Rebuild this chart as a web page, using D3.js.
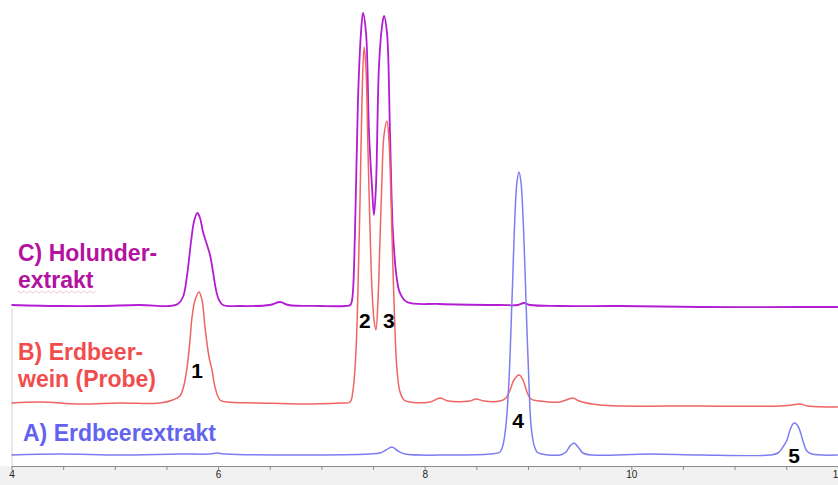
<!DOCTYPE html>
<html>
<head>
<meta charset="utf-8">
<script src="https://cdn.jsdelivr.net/npm/d3@7"></script>
<style>
  html, body { margin: 0; padding: 0; background: #fff; }
  svg { display: block; }
  text { font-family: "Liberation Sans", Arial, sans-serif; }
</style>
</head>
<body>
<svg id="chart" width="838" height="485"></svg>
<script>
// ---- data: retention time (min), signal (stacked display units) ----
const traceC = [
  [4.00,161],[4.47,160],[4.86,160],[5.24,161],[5.53,160],[5.61,162],[5.66,169],[5.70,191],
  [5.74,226],[5.77,246],[5.80,253],[5.825,248],[5.854,234],[5.893,221],[5.922,211],[5.951,194],
  [5.98,176],[6.009,166],[6.047,161],[6.21,160],[6.50,161],[6.60,164],[6.68,161],[6.99,160],
  [7.23,160],[7.28,161],[7.297,166],[7.325,233],[7.354,366],[7.383,433],[7.403,453],[7.432,433],
  [7.461,333],[7.49,279],[7.509,251],[7.528,279],[7.557,399],[7.586,439],[7.606,450],[7.635,433],
  [7.664,333],[7.693,233],[7.732,186],[7.761,173],[7.829,164],[8.148,162],[8.73,161],[8.90,161],
  [8.96,163],[9.02,161],[9.31,160],[9.89,160],[10.665,159],[11.63,159],[12.0,159]
];
const traceB = [
  [4.00,63],[4.28,64],[4.66,62],[5.05,63],[5.44,63],[5.56,66],[5.63,70],[5.67,81],[5.70,99],
  [5.728,126],[5.748,149],[5.777,166],[5.815,174],[5.844,166],[5.873,139],[5.912,109],[5.941,96],
  [5.97,79],[6.018,66],[6.086,64],[6.406,63],[6.793,62],[7.18,63],[7.277,64],[7.306,76],
  [7.335,116],[7.354,176],[7.374,266],[7.393,366],[7.413,419],[7.432,396],[7.451,316],[7.471,236],
  [7.49,176],[7.509,146],[7.528,136],[7.548,166],[7.567,226],[7.586,286],[7.606,331],[7.635,345],
  [7.654,326],[7.674,266],[7.693,196],[7.712,136],[7.732,96],[7.761,74],[7.80,66],[7.858,64],
  [8.05,64],[8.148,68],[8.225,65],[8.438,65],[8.496,67],[8.574,65],[8.729,65],[8.787,68],
  [8.826,76],[8.864,86],[8.913,91],[8.952,86],[8.99,74],[9.029,67],[9.116,65],[9.31,64],
  [9.368,66],[9.436,68],[9.494,65],[9.697,61],[10.665,60],[11.44,60],[11.555,61],[11.633,62],
  [11.71,60],[12.0,59]
];
const traceA = [
  [4.00,11],[4.47,12],[5.05,11],[5.63,12],[5.92,12],[5.99,13],[6.07,12],[6.79,11],[7.47,12],
  [7.567,13],[7.625,16],[7.683,19],[7.741,15],[7.809,12],[8.245,11],[8.632,12],[8.729,14],
  [8.758,21],[8.787,41],[8.816,86],[8.835,136],[8.855,196],[8.874,251],[8.893,284],[8.913,294],
  [8.932,284],[8.951,251],[8.971,196],[8.99,136],[9.01,81],[9.029,41],[9.058,21],[9.087,14],
  [9.135,12],[9.31,11],[9.368,14],[9.407,20],[9.445,23],[9.484,19],[9.532,13],[9.62,11],
  [10.18,12],[10.665,11],[11.342,11],[11.42,13],[11.468,19],[11.507,26],[11.536,36],[11.565,42],
  [11.584,43],[11.613,40],[11.642,32],[11.671,22],[11.70,15],[11.749,12],[12.0,11]
];
const seriesNames = ["A) Erdbeerextrakt", "B) Erdbeer-|wein (Probe)", "C) Holunder-|extrakt"];
const seriesColors = ["#7d7df2", "#f06464", "#b21cd2"];
const labelColors = ["#6363ef", "#f24d4d", "#b3139f"];
// peak numbers: label, retention time, label baseline (signal units)
const peakLabels = ["1", "2", "3", "4", "5"];
const peakTimes = [5.796, 7.42, 7.654, 8.903, 11.575];
const peakLabelLevels = [88, 138, 138, 38, 3];
const tickValues = [4, 4.5, 5, 5.5, 6, 6.5, 7, 7.5, 8, 8.5, 9, 9.5, 10, 10.5, 11, 11.5, 12];
const tickLabels = ["4", "", "", "", "6", "", "", "", "8", "", "", "", "10", "", "", "", "12"];

// ---- drawing ----
const svg = d3.select("#chart");
const W = 838, H = 485;
const x = d3.scaleLinear().domain([4, 12]).range([11.5, 837.9]);
const y = d3.scaleLinear().domain([0, 466]).range([466, 0]);

// light band below axis
svg.append("rect").attr("x", 0).attr("y", y(0)).attr("width", W).attr("height", H - y(0))
  .attr("fill", "#f1f1f1");

// faint left frame line
svg.append("line").attr("x1", 12).attr("x2", 12).attr("y1", 308).attr("y2", y(0))
  .attr("stroke", "#d4d4d4").attr("stroke-width", 1);

const line = d3.line().x(d => x(d[0])).y(d => y(d[1])).curve(d3.curveCatmullRom.alpha(0.5));
const traces = [traceA, traceB, traceC];
// draw C first, then B, then A on top
[2, 1, 0].forEach(i => {
  svg.append("path").datum(traces[i]).attr("d", line)
    .attr("fill", "none").attr("stroke", seriesColors[i])
    .attr("stroke-width", i === 2 ? 1.8 : 1.5).attr("stroke-linejoin", "round");
});

// axis
const axis = d3.axisBottom(x).tickValues(tickValues)
  .tickFormat((d, i) => tickLabels[i]).tickSize(4).tickSizeOuter(0);
const gAxis = svg.append("g").attr("transform", `translate(0,${y(0)})`).call(axis);
gAxis.select(".domain").attr("stroke", "#8a8a8a");
gAxis.selectAll(".tick line").attr("stroke", "#8a8a8a");
gAxis.selectAll(".tick text").attr("font-size", 10).attr("fill", "#222").attr("dy", "0.45em")
  .attr("font-family", "Liberation Sans, Arial, sans-serif");

// series labels
const labelPos = [[23, 441], [18, 360], [18, 261]];
seriesNames.forEach((name, i) => {
  const t = svg.append("text").attr("x", labelPos[i][0]).attr("y", labelPos[i][1])
    .attr("fill", labelColors[i]).attr("font-size", 23).attr("font-weight", "bold");
  name.split("|").forEach((part, j) => {
    t.append("tspan").attr("x", labelPos[i][0]).attr("dy", j === 0 ? 0 : 27).text(part);
  });
});

// spell-check squiggle under "extrakt"
const sq = d3.path();
sq.moveTo(18, 291);
for (let k = 0; k < 26; k++) { sq.lineTo(21 + k * 3, k % 2 ? 291 : 293); }
svg.append("path").attr("d", sq.toString()).attr("fill", "none")
  .attr("stroke", "#e07a9a").attr("stroke-width", 0.8).attr("stroke-dasharray", "1,1");

// peak numbers
peakLabels.forEach((lab, i) => {
  svg.append("text").attr("x", x(peakTimes[i])).attr("y", y(peakLabelLevels[i]))
    .attr("text-anchor", "middle").attr("font-size", 21).attr("font-weight", "bold")
    .attr("fill", "#000").text(lab);
});
</script>
</body>
</html>
